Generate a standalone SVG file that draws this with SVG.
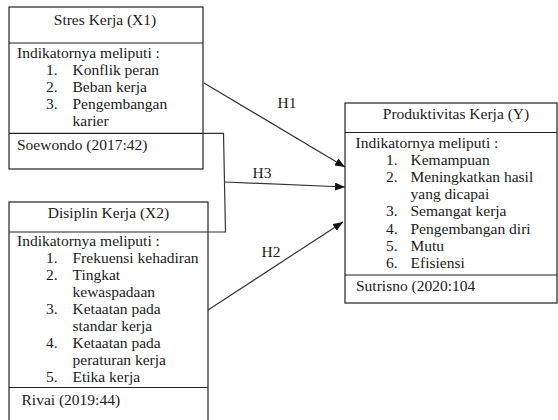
<svg xmlns="http://www.w3.org/2000/svg" width="558" height="420" viewBox="0 0 558 420">
<style>
  .box { fill: #ffffff; stroke: #222222; stroke-width: 1.2; }
  .div { stroke: #222222; stroke-width: 1.2; }
  text { font-family: "Liberation Serif", "Times New Roman", serif; font-size: 15.5px; fill: #1a1a1a; }
  .c { text-anchor: middle; }
  .conn { fill: none; stroke: #333333; stroke-width: 1.2; }
</style>
<defs>
  <marker id="arr" viewBox="0 0 10 8" refX="10" refY="4" markerWidth="10" markerHeight="8" markerUnits="userSpaceOnUse" orient="auto">
    <path d="M0,0 L10,4 L0,8 Z" fill="#111111"/>
  </marker>
</defs>
<rect width="558" height="420" fill="#ffffff"/>

<g id="node-x1">
  <rect class="box" x="9" y="7" width="194" height="162"/>
  <line class="div" x1="9" y1="43" x2="203" y2="43"/>
  <line class="div" x1="9" y1="133.3" x2="203" y2="133.3"/>
  <text class="c" x="105" y="25">Stres Kerja (X1)</text>
  <text x="17" y="57.5">Indikatornya meliputi :</text>
  <text x="46" y="74.6">1.</text><text x="72.5" y="74.6">Konflik peran</text>
  <text x="46" y="91.7">2.</text><text x="72.5" y="91.7">Beban kerja</text>
  <text x="46" y="108.8">3.</text><text x="72.5" y="108.8">Pengembangan</text>
  <text x="72.5" y="125.9">karier</text>
  <text x="17" y="150">Soewondo (2017:42)</text>
</g>

<g id="node-x2">
  <rect class="box" x="9" y="202" width="199" height="222"/>
  <line class="div" x1="9" y1="232" x2="208" y2="232"/>
  <line class="div" x1="9" y1="387.5" x2="208" y2="387.5"/>
  <text class="c" x="108.5" y="218">Disiplin Kerja (X2)</text>
  <text x="17" y="246">Indikatornya meliputi :</text>
  <text x="46" y="263">1.</text><text x="72.5" y="263">Frekuensi kehadiran</text>
  <text x="46" y="280">2.</text><text x="72.5" y="280">Tingkat</text>
  <text x="72.5" y="297">kewaspadaan</text>
  <text x="46" y="314">3.</text><text x="72.5" y="314">Ketaatan pada</text>
  <text x="72.5" y="331">standar kerja</text>
  <text x="46" y="348">4.</text><text x="72.5" y="348">Ketaatan pada</text>
  <text x="72.5" y="365">peraturan kerja</text>
  <text x="46" y="382">5.</text><text x="72.5" y="382">Etika kerja</text>
  <text x="21.5" y="405">Rivai (2019:44)</text>
</g>

<g id="node-y">
  <rect class="box" x="345" y="103" width="212" height="200"/>
  <line class="div" x1="345" y1="132.5" x2="557" y2="132.5"/>
  <line class="div" x1="345" y1="275" x2="557" y2="275"/>
  <text class="c" x="456" y="118.7">Produktivitas Kerja (Y)</text>
  <text x="355.5" y="147.5">Indikatornya meliputi :</text>
  <text x="386" y="164.7">1.</text><text x="410.5" y="164.7">Kemampuan</text>
  <text x="386" y="181.9">2.</text><text x="410.5" y="181.9">Meningkatkan hasil</text>
  <text x="410.5" y="199.1">yang dicapai</text>
  <text x="386" y="216.3">3.</text><text x="410.5" y="216.3">Semangat kerja</text>
  <text x="386" y="233.5">4.</text><text x="410.5" y="233.5">Pengembangan diri</text>
  <text x="386" y="250.7">5.</text><text x="410.5" y="250.7">Mutu</text>
  <text x="386" y="267.9">6.</text><text x="410.5" y="267.9">Efisiensi</text>
  <text x="356" y="291">Sutrisno (2020:104</text>
</g>

<g id="connectors">
  <polyline class="conn" points="203,133.3 223.5,133.3 225.5,232 208,232"/>
  <line class="conn" x1="204" y1="83" x2="345" y2="167" marker-end="url(#arr)"/>
  <line class="conn" x1="225" y1="182" x2="345" y2="187" marker-end="url(#arr)"/>
  <line class="conn" x1="208" y1="310" x2="343" y2="222" marker-end="url(#arr)"/>
  <text class="c" x="287" y="108">H1</text>
  <text class="c" x="262" y="178">H3</text>
  <text class="c" x="271" y="257">H2</text>
</g>
</svg>
